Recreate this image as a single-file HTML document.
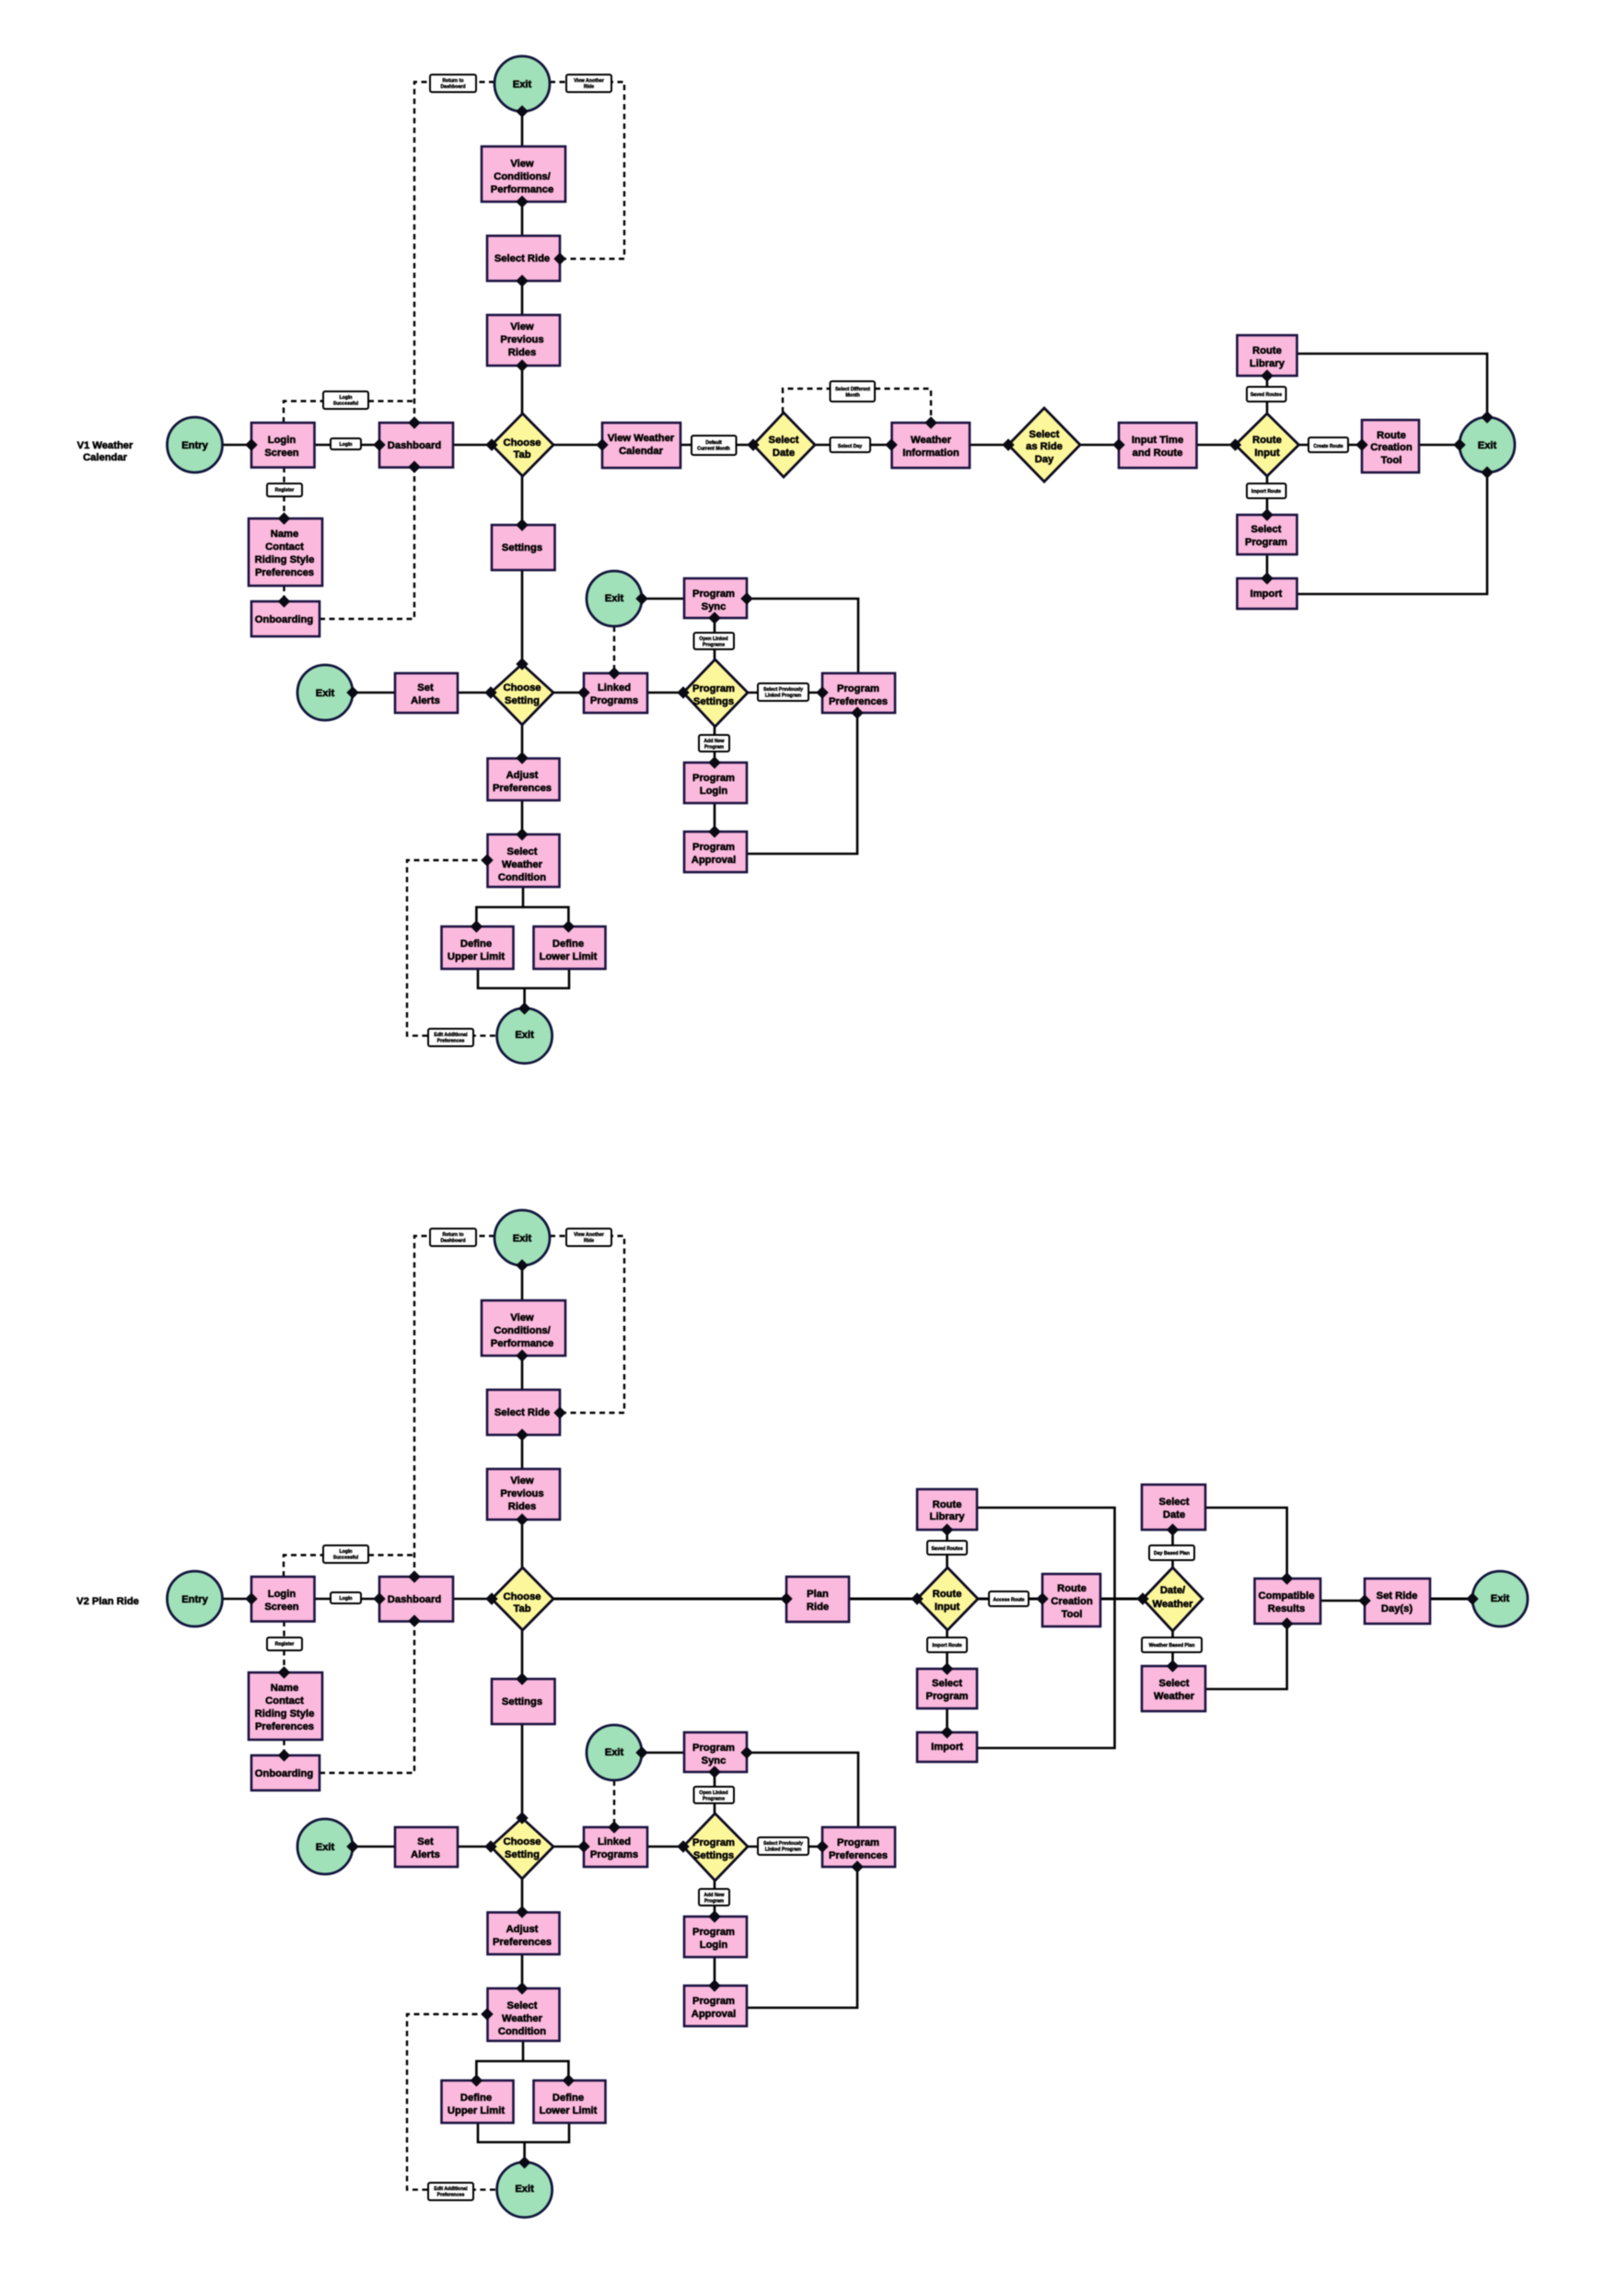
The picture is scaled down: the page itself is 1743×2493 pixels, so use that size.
<!DOCTYPE html>
<html><head><meta charset="utf-8">
<style>
html,body{margin:0;padding:0;background:#fff}
svg{display:block;filter:blur(.4px)}
.c{fill:none;stroke:#000;stroke-width:2.6}
.d{fill:none;stroke:#000;stroke-width:2.4;stroke-dasharray:6 4.5}
.r{fill:#fbb9dd;stroke:#1b1140;stroke-width:2.6}
.y{fill:#fdf79c;stroke:#0c0a20;stroke-width:2.8;stroke-linejoin:miter}
.g{fill:#a1e1b9;stroke:#12163c;stroke-width:2.8}
.l{fill:#fff;stroke:#000;stroke-width:2}
.m{fill:#0a0a14;stroke:#0a0a14;stroke-width:1}
text{font-family:"Liberation Sans",sans-serif;font-weight:bold;text-anchor:middle;fill:#000}
.t{font-size:11.2px;stroke:#000;stroke-width:.55}
.s{font-size:5.2px;stroke:#000;stroke-width:.4}
</style></head><body>
<svg xmlns="http://www.w3.org/2000/svg" width="1743" height="2493" viewBox="0 0 1743 2493">
<rect width="1743" height="2493" fill="#fff"/>

<!-- CHART 1 common -->
<g id="a1">
<path class="c" d="M567 121V159M567 219V256M567 305V342M567 397V449M567 517V570M567 619V721M567 787V823M567 869V906M568 963V985M517.4 1006V985H617.4V1006M519 1052V1073H618V1052M569.6 1073V1095M241.5 483H273M341 483H412M492 483H534M383 752H429M497 752H533M601 752H634M703 752H742M812 752H893M697 650H743M811 650H932V731M776 671V716M776 789V828M776 872V903M811 927H931V774"/>
<path class="d" d="M537 89H450V459M597 89H678V281H608M308 459V435.5H450M308.5 507V563M308.5 636V653M347 672H450V507M667 680V731M529 934H442V1124.6H540"/>
<circle class="g" cx="567" cy="91" r="30"/>
<rect class="r" x="523" y="159" width="91" height="60"/>
<rect class="r" x="529" y="256" width="79" height="49"/>
<rect class="r" x="529" y="342" width="79" height="55"/>
<path class="y" d="M534 483L567.5 449 601 483 567.5 517z"/>
<circle class="g" cx="211.5" cy="483" r="30"/>
<rect class="r" x="273" y="459" width="68.500" height="48.500"/>
<rect class="r" x="412" y="459" width="80" height="48.500"/>
<rect class="r" x="534" y="570" width="68.500" height="49"/>
<rect class="r" x="270" y="563" width="80" height="73"/>
<rect class="r" x="273" y="653" width="74" height="38"/>
<rect class="l" x="359" y="476" width="33" height="12" rx="2"/>
<rect class="l" x="290" y="525" width="38" height="14" rx="2"/>
<rect class="l" x="351" y="425" width="49" height="19" rx="2"/>
<rect class="l" x="467" y="81" width="50" height="19" rx="2"/>
<rect class="l" x="615" y="81" width="49" height="19" rx="2"/>
<circle class="g" cx="667" cy="650" r="30"/>
<rect class="r" x="743" y="628" width="68" height="43"/>
<path class="y" d="M742 752L776.500 716 812 752 776.500 789z"/>
<rect class="l" x="753.500" y="687" width="43.500" height="18" rx="2"/>
<rect class="l" x="823" y="742" width="55" height="19" rx="2"/>
<rect class="r" x="893" y="731" width="79" height="43"/>
<rect class="l" x="759" y="798" width="33" height="18" rx="2"/>
<rect class="r" x="743" y="828" width="68" height="44"/>
<rect class="r" x="743" y="903" width="68" height="44"/>
<rect class="r" x="634" y="731" width="69" height="43"/>
<path class="y" d="M533 752L567 721 601 752 567 787z"/>
<rect class="r" x="429" y="731" width="68" height="43"/>
<circle class="g" cx="353" cy="752" r="30"/>
<rect class="r" x="529.500" y="823.500" width="78" height="45.500"/>
<rect class="r" x="529.500" y="906" width="78" height="57"/>
<rect class="r" x="479.500" y="1006" width="78" height="46"/>
<rect class="r" x="579.500" y="1006" width="78" height="46"/>
<circle class="g" cx="569.600" cy="1124.600" r="30"/>
<rect class="l" x="465" y="1117" width="49" height="19" rx="2"/>

<text class="t" x="567" y="95">Exit</text>
<text class="t"><tspan x="567" y="181">View</tspan><tspan x="567" y="195">Conditions/</tspan><tspan x="567" y="209">Performance</tspan></text>
<text class="t" x="567" y="284">Select Ride</text>
<text class="t"><tspan x="567" y="358">View</tspan><tspan x="567" y="372">Previous</tspan><tspan x="567" y="386">Rides</tspan></text>
<text class="t"><tspan x="567" y="484">Choose</tspan><tspan x="567" y="497">Tab</tspan></text>
<text class="t" x="211.500" y="487">Entry</text>
<text class="t"><tspan x="306" y="481">Login</tspan><tspan x="306" y="495">Screen</tspan></text>
<text class="t" x="450" y="487">Dashboard</text>
<text class="t" x="567" y="598">Settings</text>
<text class="t"><tspan x="309" y="583">Name</tspan><tspan x="309" y="597">Contact</tspan><tspan x="309" y="611">Riding Style</tspan><tspan x="309" y="625">Preferences</tspan></text>
<text class="t" x="308.500" y="676">Onboarding</text>
<text class="s" x="375.500" y="484">Login</text>
<text class="s" x="309" y="533.500">Register</text>
<text class="s"><tspan x="375.500" y="433">Login</tspan><tspan x="375.500" y="439.500">Successful</tspan></text>
<text class="s"><tspan x="492" y="89">Return to</tspan><tspan x="492" y="95.500">Dashboard</tspan></text>
<text class="s"><tspan x="639.500" y="89">View Another</tspan><tspan x="639.500" y="95.500">Ride</tspan></text>
<text class="t" x="667" y="653">Exit</text>
<text class="t"><tspan x="775" y="648">Program</tspan><tspan x="775" y="662">Sync</tspan></text>
<text class="t"><tspan x="775" y="751">Program</tspan><tspan x="775" y="765">Settings</tspan></text>
<text class="s"><tspan x="775" y="695">Open Linked</tspan><tspan x="775" y="701.500">Programs</tspan></text>
<text class="s"><tspan x="850.500" y="750">Select Previously</tspan><tspan x="850.500" y="756.500">Linked Program</tspan></text>
<text class="t"><tspan x="932" y="751">Program</tspan><tspan x="932" y="765">Preferences</tspan></text>
<text class="s"><tspan x="775.500" y="806">Add New</tspan><tspan x="775.500" y="812.500">Program</tspan></text>
<text class="t"><tspan x="775" y="848">Program</tspan><tspan x="775" y="862">Login</tspan></text>
<text class="t"><tspan x="775" y="923">Program</tspan><tspan x="775" y="937">Approval</tspan></text>
<text class="t"><tspan x="667" y="750">Linked</tspan><tspan x="667" y="764">Programs</tspan></text>
<text class="t"><tspan x="567" y="750">Choose</tspan><tspan x="567" y="764">Setting</tspan></text>
<text class="t"><tspan x="462" y="750">Set</tspan><tspan x="462" y="764">Alerts</tspan></text>
<text class="t" x="353" y="756">Exit</text>
<text class="t"><tspan x="567" y="845">Adjust</tspan><tspan x="567" y="859">Preferences</tspan></text>
<text class="t"><tspan x="567" y="928">Select</tspan><tspan x="567" y="942">Weather</tspan><tspan x="567" y="956">Condition</tspan></text>
<text class="t"><tspan x="517" y="1028">Define</tspan><tspan x="517" y="1042">Upper Limit</tspan></text>
<text class="t"><tspan x="617" y="1028">Define</tspan><tspan x="617" y="1042">Lower Limit</tspan></text>
<text class="t" x="569.600" y="1127">Exit</text>
<text class="s"><tspan x="489.500" y="1125">Edit Additional</tspan><tspan x="489.500" y="1131.500">Preferences</tspan></text>
<path class="m" d="M567 121m-6 0l6-6 6 6-6 6zM567 219m-6 0l6-6 6 6-6 6zM567 305m-6 0l6-6 6 6-6 6zM608 281m-6 0l6-6 6 6-6 6zM567 397m-6 0l6-6 6 6-6 6zM273 483m-6 0l6-6 6 6-6 6zM412 483m-6 0l6-6 6 6-6 6zM450 459m-6 0l6-6 6 6-6 6zM450 507m-6 0l6-6 6 6-6 6zM534 483m-6 0l6-6 6 6-6 6zM308.500 563m-6 0l6-6 6 6-6 6zM308.500 653m-6 0l6-6 6 6-6 6zM567 570m-6 0l6-6 6 6-6 6zM697 650m-6 0l6-6 6 6-6 6zM811 650m-6 0l6-6 6 6-6 6zM776 671m-6 0l6-6 6 6-6 6zM667 731m-6 0l6-6 6 6-6 6zM634 752m-6 0l6-6 6 6-6 6zM742 752m-6 0l6-6 6 6-6 6zM893 752m-6 0l6-6 6 6-6 6zM931 774m-6 0l6-6 6 6-6 6zM776 828m-6 0l6-6 6 6-6 6zM776 903m-6 0l6-6 6 6-6 6zM567 721m-6 0l6-6 6 6-6 6zM533 752m-6 0l6-6 6 6-6 6zM383 752m-6 0l6-6 6 6-6 6zM567 823m-6 0l6-6 6 6-6 6zM567 906m-6 0l6-6 6 6-6 6zM529 934m-6 0l6-6 6 6-6 6zM517.400 1006m-6 0l6-6 6 6-6 6zM617.400 1006m-6 0l6-6 6 6-6 6zM569.600 1095m-6 0l6-6 6 6-6 6z"/>
</g>

<!-- CHART 1 unique -->
<path class="c" d="M601 483H654M739 483H818M885 483H968M1053 483H1095M1173 483H1215M1299 483H1341M1410 483H1479M1541 483H1585M1376 408V449M1376 517V559M1376 602V628M1408 384H1615V453M1408 645H1615V513"/>
<path class="d" d="M850 448V422H1011V459"/>
<rect class="r" x="654" y="459" width="85" height="49"/>
<rect class="l" x="751" y="473" width="48.500" height="21" rx="2"/>
<path class="y" d="M818 483L851 448 885 483 851 518z"/>
<rect class="l" x="901.500" y="475" width="43.500" height="16" rx="2"/>
<rect class="r" x="968.500" y="459" width="84.500" height="49"/>
<rect class="l" x="901.500" y="414" width="48.500" height="22" rx="2"/>
<path class="y" d="M1095 483L1134 443 1173 483 1134 523z"/>
<rect class="r" x="1215" y="459" width="84.500" height="49"/>
<path class="y" d="M1341.500 483L1376 449 1410.500 483 1376 517z"/>
<rect class="r" x="1343.500" y="364" width="65" height="44"/>
<rect class="l" x="1354" y="420" width="42.500" height="16" rx="2"/>
<rect class="l" x="1354" y="525" width="42.500" height="16" rx="2"/>
<rect class="r" x="1343.500" y="559" width="65" height="43"/>
<rect class="r" x="1343.500" y="628" width="65" height="33"/>
<rect class="l" x="1421" y="475" width="43" height="16" rx="2"/>
<rect class="r" x="1479" y="456" width="62" height="57"/>
<circle class="g" cx="1615" cy="483" r="30"/>
<text class="t"><tspan x="114" y="487">V1 Weather</tspan><tspan x="114" y="500">Calendar</tspan></text>
<text class="t"><tspan x="696" y="479">View Weather</tspan><tspan x="696" y="493">Calendar</tspan></text>
<text class="s"><tspan x="775" y="482">Default</tspan><tspan x="775" y="488.500">Current Month</tspan></text>
<text class="t"><tspan x="851" y="481">Select</tspan><tspan x="851" y="495">Date</tspan></text>
<text class="s" x="923" y="486">Select Day</text>
<text class="t"><tspan x="1011" y="481">Weather</tspan><tspan x="1011" y="495">Information</tspan></text>
<text class="s"><tspan x="926" y="424">Select Different</tspan><tspan x="926" y="430.500">Month</tspan></text>
<text class="t"><tspan x="1134" y="475">Select</tspan><tspan x="1134" y="488">as Ride</tspan><tspan x="1134" y="502">Day</tspan></text>
<text class="t"><tspan x="1257" y="481">Input Time</tspan><tspan x="1257" y="495">and Route</tspan></text>
<text class="t"><tspan x="1376" y="481">Route</tspan><tspan x="1376" y="495">Input</tspan></text>
<text class="t"><tspan x="1376" y="384">Route</tspan><tspan x="1376" y="398">Library</tspan></text>
<text class="s" x="1375" y="430">Saved Routes</text>
<text class="s" x="1375" y="535">Import Route</text>
<text class="t"><tspan x="1375" y="578">Select</tspan><tspan x="1375" y="592">Program</tspan></text>
<text class="t" x="1375" y="648">Import</text>
<text class="s" x="1442.500" y="486">Create Route</text>
<text class="t"><tspan x="1511" y="476">Route</tspan><tspan x="1511" y="489">Creation</tspan><tspan x="1511" y="503">Tool</tspan></text>
<text class="t" x="1615" y="487">Exit</text>
<path class="m" d="M654 483m-6 0l6-6 6 6-6 6zM818 483m-6 0l6-6 6 6-6 6zM968 483m-6 0l6-6 6 6-6 6zM1011 459m-6 0l6-6 6 6-6 6zM1095 483m-6 0l6-6 6 6-6 6zM1215 483m-6 0l6-6 6 6-6 6zM1341.500 483m-6 0l6-6 6 6-6 6zM1376 408m-6 0l6-6 6 6-6 6zM1376 559m-6 0l6-6 6 6-6 6zM1376 628m-6 0l6-6 6 6-6 6zM1479 483m-6 0l6-6 6 6-6 6zM1585 483m-6 0l6-6 6 6-6 6zM1615 453m-6 0l6-6 6 6-6 6zM1615 513m-6 0l6-6 6 6-6 6z"/>

<!-- CHART 2 common (same layout, shifted) -->
<g transform="translate(0,1253)">
<path class="c" d="M567 121V159M567 219V256M567 305V342M567 397V449M567 517V570M567 619V721M567 787V823M567 869V906M568 963V985M517.4 1006V985H617.4V1006M519 1052V1073H618V1052M569.6 1073V1095M241.5 483H273M341 483H412M492 483H534M383 752H429M497 752H533M601 752H634M703 752H742M812 752H893M697 650H743M811 650H932V731M776 671V716M776 789V828M776 872V903M811 927H931V774"/>
<path class="d" d="M537 89H450V459M597 89H678V281H608M308 459V435.5H450M308.5 507V563M308.5 636V653M347 672H450V507M667 680V731M529 934H442V1124.6H540"/>
<circle class="g" cx="567" cy="91" r="30"/>
<rect class="r" x="523" y="159" width="91" height="60"/>
<rect class="r" x="529" y="256" width="79" height="49"/>
<rect class="r" x="529" y="342" width="79" height="55"/>
<path class="y" d="M534 483L567.5 449 601 483 567.5 517z"/>
<circle class="g" cx="211.5" cy="483" r="30"/>
<rect class="r" x="273" y="459" width="68.500" height="48.500"/>
<rect class="r" x="412" y="459" width="80" height="48.500"/>
<rect class="r" x="534" y="570" width="68.500" height="49"/>
<rect class="r" x="270" y="563" width="80" height="73"/>
<rect class="r" x="273" y="653" width="74" height="38"/>
<rect class="l" x="359" y="476" width="33" height="12" rx="2"/>
<rect class="l" x="290" y="525" width="38" height="14" rx="2"/>
<rect class="l" x="351" y="425" width="49" height="19" rx="2"/>
<rect class="l" x="467" y="81" width="50" height="19" rx="2"/>
<rect class="l" x="615" y="81" width="49" height="19" rx="2"/>
<circle class="g" cx="667" cy="650" r="30"/>
<rect class="r" x="743" y="628" width="68" height="43"/>
<path class="y" d="M742 752L776.500 716 812 752 776.500 789z"/>
<rect class="l" x="753.500" y="687" width="43.500" height="18" rx="2"/>
<rect class="l" x="823" y="742" width="55" height="19" rx="2"/>
<rect class="r" x="893" y="731" width="79" height="43"/>
<rect class="l" x="759" y="798" width="33" height="18" rx="2"/>
<rect class="r" x="743" y="828" width="68" height="44"/>
<rect class="r" x="743" y="903" width="68" height="44"/>
<rect class="r" x="634" y="731" width="69" height="43"/>
<path class="y" d="M533 752L567 721 601 752 567 787z"/>
<rect class="r" x="429" y="731" width="68" height="43"/>
<circle class="g" cx="353" cy="752" r="30"/>
<rect class="r" x="529.500" y="823.500" width="78" height="45.500"/>
<rect class="r" x="529.500" y="906" width="78" height="57"/>
<rect class="r" x="479.500" y="1006" width="78" height="46"/>
<rect class="r" x="579.500" y="1006" width="78" height="46"/>
<circle class="g" cx="569.600" cy="1124.600" r="30"/>
<rect class="l" x="465" y="1117" width="49" height="19" rx="2"/>

<text class="t" x="567" y="95">Exit</text>
<text class="t"><tspan x="567" y="181">View</tspan><tspan x="567" y="195">Conditions/</tspan><tspan x="567" y="209">Performance</tspan></text>
<text class="t" x="567" y="284">Select Ride</text>
<text class="t"><tspan x="567" y="358">View</tspan><tspan x="567" y="372">Previous</tspan><tspan x="567" y="386">Rides</tspan></text>
<text class="t"><tspan x="567" y="484">Choose</tspan><tspan x="567" y="497">Tab</tspan></text>
<text class="t" x="211.500" y="487">Entry</text>
<text class="t"><tspan x="306" y="481">Login</tspan><tspan x="306" y="495">Screen</tspan></text>
<text class="t" x="450" y="487">Dashboard</text>
<text class="t" x="567" y="598">Settings</text>
<text class="t"><tspan x="309" y="583">Name</tspan><tspan x="309" y="597">Contact</tspan><tspan x="309" y="611">Riding Style</tspan><tspan x="309" y="625">Preferences</tspan></text>
<text class="t" x="308.500" y="676">Onboarding</text>
<text class="s" x="375.500" y="484">Login</text>
<text class="s" x="309" y="533.500">Register</text>
<text class="s"><tspan x="375.500" y="433">Login</tspan><tspan x="375.500" y="439.500">Successful</tspan></text>
<text class="s"><tspan x="492" y="89">Return to</tspan><tspan x="492" y="95.500">Dashboard</tspan></text>
<text class="s"><tspan x="639.500" y="89">View Another</tspan><tspan x="639.500" y="95.500">Ride</tspan></text>
<text class="t" x="667" y="653">Exit</text>
<text class="t"><tspan x="775" y="648">Program</tspan><tspan x="775" y="662">Sync</tspan></text>
<text class="t"><tspan x="775" y="751">Program</tspan><tspan x="775" y="765">Settings</tspan></text>
<text class="s"><tspan x="775" y="695">Open Linked</tspan><tspan x="775" y="701.500">Programs</tspan></text>
<text class="s"><tspan x="850.500" y="750">Select Previously</tspan><tspan x="850.500" y="756.500">Linked Program</tspan></text>
<text class="t"><tspan x="932" y="751">Program</tspan><tspan x="932" y="765">Preferences</tspan></text>
<text class="s"><tspan x="775.500" y="806">Add New</tspan><tspan x="775.500" y="812.500">Program</tspan></text>
<text class="t"><tspan x="775" y="848">Program</tspan><tspan x="775" y="862">Login</tspan></text>
<text class="t"><tspan x="775" y="923">Program</tspan><tspan x="775" y="937">Approval</tspan></text>
<text class="t"><tspan x="667" y="750">Linked</tspan><tspan x="667" y="764">Programs</tspan></text>
<text class="t"><tspan x="567" y="750">Choose</tspan><tspan x="567" y="764">Setting</tspan></text>
<text class="t"><tspan x="462" y="750">Set</tspan><tspan x="462" y="764">Alerts</tspan></text>
<text class="t" x="353" y="756">Exit</text>
<text class="t"><tspan x="567" y="845">Adjust</tspan><tspan x="567" y="859">Preferences</tspan></text>
<text class="t"><tspan x="567" y="928">Select</tspan><tspan x="567" y="942">Weather</tspan><tspan x="567" y="956">Condition</tspan></text>
<text class="t"><tspan x="517" y="1028">Define</tspan><tspan x="517" y="1042">Upper Limit</tspan></text>
<text class="t"><tspan x="617" y="1028">Define</tspan><tspan x="617" y="1042">Lower Limit</tspan></text>
<text class="t" x="569.600" y="1127">Exit</text>
<text class="s"><tspan x="489.500" y="1125">Edit Additional</tspan><tspan x="489.500" y="1131.500">Preferences</tspan></text>
<path class="m" d="M567 121m-6 0l6-6 6 6-6 6zM567 219m-6 0l6-6 6 6-6 6zM567 305m-6 0l6-6 6 6-6 6zM608 281m-6 0l6-6 6 6-6 6zM567 397m-6 0l6-6 6 6-6 6zM273 483m-6 0l6-6 6 6-6 6zM412 483m-6 0l6-6 6 6-6 6zM450 459m-6 0l6-6 6 6-6 6zM450 507m-6 0l6-6 6 6-6 6zM534 483m-6 0l6-6 6 6-6 6zM308.500 563m-6 0l6-6 6 6-6 6zM308.500 653m-6 0l6-6 6 6-6 6zM567 570m-6 0l6-6 6 6-6 6zM697 650m-6 0l6-6 6 6-6 6zM811 650m-6 0l6-6 6 6-6 6zM776 671m-6 0l6-6 6 6-6 6zM667 731m-6 0l6-6 6 6-6 6zM634 752m-6 0l6-6 6 6-6 6zM742 752m-6 0l6-6 6 6-6 6zM893 752m-6 0l6-6 6 6-6 6zM931 774m-6 0l6-6 6 6-6 6zM776 828m-6 0l6-6 6 6-6 6zM776 903m-6 0l6-6 6 6-6 6zM567 721m-6 0l6-6 6 6-6 6zM533 752m-6 0l6-6 6 6-6 6zM383 752m-6 0l6-6 6 6-6 6zM567 823m-6 0l6-6 6 6-6 6zM567 906m-6 0l6-6 6 6-6 6zM529 934m-6 0l6-6 6 6-6 6zM517.400 1006m-6 0l6-6 6 6-6 6zM617.400 1006m-6 0l6-6 6 6-6 6zM569.600 1095m-6 0l6-6 6 6-6 6z"/>
</g>

<!-- CHART 2 unique -->
<path class="c" style="stroke-width:3" d="M601 1736H854M922 1736H996M1062 1736H1132M1195 1736H1241M1553 1736H1599"/>
<path class="c" d="M1028.500 1661V1702M1028.500 1770V1812M1028.500 1855V1881M1061 1637H1210.500V1898H1061M1273.500 1661V1702M1273.500 1771V1809M1309 1637H1397.600V1714M1309 1834H1397.600V1763M1434 1738H1482"/>
<rect class="r" x="854" y="1712" width="68" height="49"/>
<path class="y" d="M996 1736L1029 1702 1062 1736 1029 1770z"/>
<rect class="r" x="996" y="1617" width="65" height="44"/>
<rect class="l" x="1007" y="1673" width="43" height="15" rx="2"/>
<rect class="l" x="1007" y="1778" width="43" height="16" rx="2"/>
<rect class="r" x="996" y="1812" width="65" height="43"/>
<rect class="r" x="996" y="1881" width="65" height="32"/>
<rect class="l" x="1074" y="1728" width="43" height="16" rx="2"/>
<rect class="r" x="1132" y="1709" width="63" height="57"/>
<path class="y" d="M1241 1736L1273.500 1702 1306 1736 1273.500 1771z"/>
<rect class="r" x="1240" y="1612" width="69" height="49"/>
<rect class="l" x="1248" y="1678" width="49" height="16" rx="2"/>
<rect class="l" x="1240" y="1778" width="65" height="16" rx="2"/>
<rect class="r" x="1240" y="1809" width="69" height="49"/>
<rect class="r" x="1362.500" y="1714" width="71.500" height="49"/>
<rect class="r" x="1482" y="1714" width="71" height="49"/>
<circle class="g" cx="1629" cy="1736" r="30"/>
<text class="t" x="117" y="1742">V2 Plan Ride</text>
<text class="t"><tspan x="888" y="1734">Plan</tspan><tspan x="888" y="1748">Ride</tspan></text>
<text class="t"><tspan x="1028.500" y="1734">Route</tspan><tspan x="1028.500" y="1748">Input</tspan></text>
<text class="t"><tspan x="1028.500" y="1637">Route</tspan><tspan x="1028.500" y="1650">Library</tspan></text>
<text class="s" x="1028.500" y="1683">Saved Routes</text>
<text class="s" x="1028.500" y="1788">Import Route</text>
<text class="t"><tspan x="1028.500" y="1831">Select</tspan><tspan x="1028.500" y="1845">Program</tspan></text>
<text class="t" x="1028.500" y="1900">Import</text>
<text class="s" x="1095.500" y="1738.500">Access Route</text>
<text class="t"><tspan x="1164" y="1728">Route</tspan><tspan x="1164" y="1742">Creation</tspan><tspan x="1164" y="1756">Tool</tspan></text>
<text class="t"><tspan x="1273.500" y="1730">Date/</tspan><tspan x="1273.500" y="1745">Weather</tspan></text>
<text class="t"><tspan x="1275" y="1634">Select</tspan><tspan x="1275" y="1648">Date</tspan></text>
<text class="s" x="1272.500" y="1688">Day Based Plan</text>
<text class="s" x="1272.500" y="1788">Weather Based Plan</text>
<text class="t"><tspan x="1275" y="1831">Select</tspan><tspan x="1275" y="1845">Weather</tspan></text>
<text class="t"><tspan x="1397" y="1736">Compatible</tspan><tspan x="1397" y="1750">Results</tspan></text>
<text class="t"><tspan x="1517" y="1736">Set Ride</tspan><tspan x="1517" y="1750">Day(s)</tspan></text>
<text class="t" x="1629" y="1739">Exit</text>
<path class="m" d="M854 1736m-6 0l6-6 6 6-6 6zM996 1736m-6 0l6-6 6 6-6 6zM1028.500 1661m-6 0l6-6 6 6-6 6zM1028.500 1812m-6 0l6-6 6 6-6 6zM1028.500 1881m-6 0l6-6 6 6-6 6zM1132 1736m-6 0l6-6 6 6-6 6zM1241 1736m-6 0l6-6 6 6-6 6zM1273.500 1661m-6 0l6-6 6 6-6 6zM1273.500 1809m-6 0l6-6 6 6-6 6zM1397.600 1714m-6 0l6-6 6 6-6 6zM1397.600 1763m-6 0l6-6 6 6-6 6zM1482 1738m-6 0l6-6 6 6-6 6zM1599 1736m-6 0l6-6 6 6-6 6z"/>
</svg>
</body></html>
